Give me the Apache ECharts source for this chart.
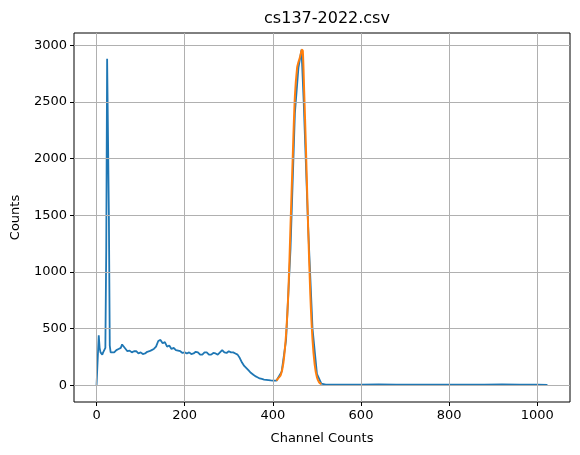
<!DOCTYPE html>
<html>
<head>
<meta charset="UTF-8">
<script src="https://cdn.jsdelivr.net/npm/echarts@6/dist/echarts.min.js"></script>
<style>
  body { margin: 0; padding: 0; background: #fff; }
  #chart { width: 580px; height: 455px; }
</style>
</head>
<body>
<div id="chart"></div>
<script>
// spectrum (channel, counts)
var spectrum = [
  [0,0],[3,0],[5,440],[7,330],[9,290],[11,300],[13,270],[15,290],[18,300],[20,330],
  [22,1200],[24,2880],[26,2880],[28,1500],[30,350],[32,290],[35,300],[40,290],[45,310],
  [50,320],[55,330],[58,360],[62,340],[66,320],[70,300],[75,305],[80,290],[85,300],[90,300],
  [95,280],[100,290],[105,275],[110,280],[115,295],[120,300],[125,310],[130,320],[135,340],
  [140,390],[145,400],[150,370],[155,380],[160,340],[165,350],[170,320],[175,330],[180,310],
  [185,305],[190,300],[195,285],[200,290],[205,280],[210,290],[215,275],[220,280],[225,295],
  [230,290],[235,270],[240,270],[245,290],[250,290],[255,270],[260,270],[265,285],[270,280],
  [275,270],[280,290],[285,310],[290,290],[295,285],[300,300],[305,290],[310,290],[315,280],
  [320,270],[325,240],[330,200],[335,170],[340,150],[345,130],[350,110],[355,95],[360,80],
  [365,70],[370,60],[375,55],[380,50],[385,48],[390,45],[395,42],[400,40],[408,40],
  [420,120],[430,400],[440,1200],[450,2400],[458,2800],[465,2960],[470,2500],[480,1400],
  [490,500],[500,100],[510,15],[520,5],[560,6],[600,5],[640,7],[680,5],[720,6],[760,4],
  [800,5],[840,6],[880,5],[920,7],[960,5],[1000,4],[1023,3]
];
// fitted photopeak
var fit = [
  [408,40],[412,60],[418,90],[424,200],[430,450],[435,800],[440,1400],[445,2000],
  [450,2550],[455,2800],[458,2850],[462,2900],[466,2960],[468,2950],[471,2600],
  [475,2100],[480,1400],[485,800],[490,400],[495,180],[500,70],[505,25],[510,10]
];
var xTicks = [0, 200, 400, 600, 800, 1000];
var yTicks = [0, 500, 1000, 1500, 2000, 2500, 3000];

var font = 'DejaVu Sans';
var gridLines = xTicks.map(function (v) { return { xAxis: v }; })
  .concat(yTicks.map(function (v) { return { yAxis: v }; }));

var chart = echarts.init(document.getElementById('chart'));
chart.setOption({
  animation: false,
  backgroundColor: '#fff',
  title: {
    text: 'cs137-2022.csv', left: 322, top: 6, textAlign: 'center',
    textStyle: { fontFamily: font, fontSize: 16, fontWeight: 'normal', color: '#000' }
  },
  grid: { left: 74, right: 10, top: 33, bottom: 53, show: true, borderColor: '#000', borderWidth: 1 },
  xAxis: {
    type: 'value', min: -51.15, max: 1074.15,
    name: 'Channel Counts', nameLocation: 'middle', nameGap: 30,
    nameTextStyle: { fontFamily: font, fontSize: 13, color: '#000' },
    axisLine: { show: false, onZero: false },
    axisTick: { show: true, inside: false, length: 4, customValues: xTicks, lineStyle: { color: '#000' } },
    axisLabel: { customValues: xTicks, fontFamily: font, fontSize: 13, color: '#000', margin: 7,
      formatter: function (v) { return String(v); } },
    splitLine: { show: false }
  },
  yAxis: {
    type: 'value', min: -148, max: 3108,
    name: 'Counts', nameLocation: 'middle', nameGap: 52,
    nameTextStyle: { fontFamily: font, fontSize: 13, color: '#000' },
    axisLine: { show: false, onZero: false },
    axisTick: { show: true, inside: false, length: 4, customValues: yTicks, lineStyle: { color: '#000' } },
    axisLabel: { customValues: yTicks, fontFamily: font, fontSize: 13, color: '#000', margin: 7,
      formatter: function (v) { return String(v); } },
    splitLine: { show: false }
  },
  series: [
    { type: 'line', data: [], z: 1,
      markLine: { silent: true, symbol: 'none', label: { show: false },
        lineStyle: { color: '#b0b0b0', width: 1, type: 'solid' }, data: gridLines } },
    { type: 'line', data: spectrum, z: 3, showSymbol: false, lineStyle: { color: '#1f77b4', width: 1.8 } },
    { type: 'line', data: fit, z: 4, showSymbol: false, smooth: 0.3, lineStyle: { color: '#ff7f0e', width: 2 } }
  ]
});
</script>
</body>
</html>
